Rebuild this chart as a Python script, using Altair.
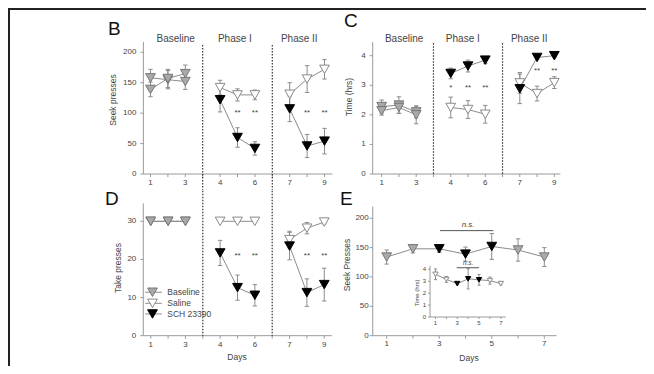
import altair as alt
import pandas as pd

# ------------------------------------------------------------------ data
days9 = [1, 2, 3, 4, 5, 6, 7, 8, 9]
B_saline = [158, 155, 152, 142, 130, 130, 131, 156, 172]
B_saline_err = [14, 15, 13, 12, 10, 8, 19, 22, 16]
B_sch = [139, 157, 165, 122, 60, 42, 107, 46, 54]
B_sch_err = [12, 15, 14, 20, 16, 11, 21, 19, 21]

C_saline = [2.28, 2.33, 2.10, 2.25, 2.18, 2.02, 3.08, 2.72, 3.09]
C_saline_err = [0.22, 0.28, 0.20, 0.35, 0.30, 0.30, 0.35, 0.25, 0.20]
C_sch = [2.14, 2.25, 2.00, 3.40, 3.65, 3.85, 2.88, 3.94, 4.00]
C_sch_err = [0.15, 0.20, 0.30, 0.18, 0.20, 0.12, 0.50, 0.05, 0.05]

D_saline = [30, 30, 30, 30, 30, 30, 25.2, 28.2, 29.8]
D_saline_err = [0, 0, 0, 0, 0, 0, 2.2, 1.5, 0.5]
D_sch = [30, 30, 30, 21.7, 12.6, 10.6, 23.5, 11.3, 13.4]
D_sch_err = [0, 0, 0, 3.3, 3.3, 2.8, 3.6, 3.6, 4.3]

E_days = [1, 2, 3, 4, 5, 6, 7]
E_seek = [134, 148, 148, 139, 152, 146, 134]
E_seek_err = [12, 7, 6, 12, 22, 19, 16]
E_treated = [False, False, True, True, True, False, False]
E_inset_time = [3.58, 3.15, 2.80, 3.20, 3.12, 3.05, 2.80]
E_inset_err = [0.45, 0.25, 0.10, 0.85, 0.45, 0.30, 0.10]

B_star_days = [5, 6, 8, 9]
B_star_text = ["**", "**", "**", "**"]
C_star_days = [4, 5, 6, 8, 9]
C_star_text = ["*", "**", "**", "**", "**"]
D_star_days = [5, 6, 8, 9]
D_star_text = ["**", "**", "**", "**"]

phase_names = ["Baseline", "Phase I", "Phase II"]
legend_names = ["Baseline", "Saline", "SCH 23390"]

# ------------------------------------------------------------------ layout
W, H = 638, 358
FONT = "Liberation Sans"
GREY = "#8c8c8c"
AXC = "#9a9a9a"
TXT = "#444444"

GEOM = {
    "B": dict(xd=[0, 12], xr=[125.1, 333.9], yd=[0, 200], yr=[166, 44.3]),
    "C": dict(xd=[0, 12], xr=[356.4, 563.6], yd=[0, 4], yr=[166, 47.7]),
    "D": dict(xd=[0, 12], xr=[125.4, 333.6], yd=[0, 30], yr=[327.7, 213.3]),
    "E": dict(xd=[0, 8], xr=[352.4, 562.6], yd=[0, 200], yr=[327.7, 210.3]),
    "I": dict(xd=[0, 8], xr=[416.6, 503.7], yd=[0, 4], yr=[309, 261.3]),
}


def sx(p):
    g = GEOM[p]
    return alt.Scale(domain=g["xd"], range=g["xr"], nice=False, zero=False)


def sy(p):
    g = GEOM[p]
    return alt.Scale(domain=g["yd"], range=g["yr"], nice=False, zero=False)


def X(p, f):
    return alt.X(f"{f}:Q", scale=sx(p), axis=None)


def Y(p, f):
    return alt.Y(f"{f}:Q", scale=sy(p), axis=None)


def Xd(p, v):
    return alt.X(datum=v, scale=sx(p), axis=None)


def Yd(p, v):
    return alt.Y(datum=v, scale=sy(p), axis=None)


def pos9(d):
    # days 1-3, 4-6, 7-9 with a one-slot gap between phases
    return d + (d - 1) // 3


def frame9(sal, sal_e, sch, sch_e):
    rows = []
    for grp, m, e in (("saline", sal, sal_e), ("sch", sch, sch_e)):
        for d, mv, ev in zip(days9, m, e):
            ph = (d - 1) // 3
            rows.append(dict(pos=pos9(d), mean=mv, lo=mv - ev, hi=mv + ev,
                             seg=f"{grp}{ph}", style="base" if ph == 0 else grp))
    return pd.DataFrame(rows)


STY = {"base": ("#a9a9a9", "#777777"), "saline": ("#ffffff", "#8a8a8a"),
       "sch": ("#000000", "#000000")}


def series(p, df, size=95, cap=2.2, sw=1):
    x = X(p, "pos")
    out = [
        alt.Chart(df).mark_line(color=GREY, strokeWidth=sw).encode(
            x=x, y=Y(p, "mean"), detail="seg:N"),
        alt.Chart(df).mark_rule(color=GREY, strokeWidth=sw).encode(
            x=x, y=Y(p, "lo"), y2=alt.Y2("hi:Q")),
        alt.Chart(df).mark_rule(color=GREY, strokeWidth=sw, xOffset=-cap, x2Offset=cap).encode(
            x=x, x2=alt.X2("pos:Q"), y=Y(p, "hi"), y2=alt.Y2("hi:Q")),
        alt.Chart(df).mark_rule(color=GREY, strokeWidth=sw, xOffset=-cap, x2Offset=cap).encode(
            x=x, x2=alt.X2("pos:Q"), y=Y(p, "lo"), y2=alt.Y2("lo:Q")),
    ]
    for st in ("base", "saline", "sch"):
        fill, stroke = STY[st]
        out.append(
            alt.Chart(df).transform_filter(alt.datum.style == st).mark_point(
                shape="triangle-down", filled=True, fill=fill, stroke=stroke,
                strokeWidth=1, size=size, opacity=1).encode(x=x, y=Y(p, "mean")))
    return out


def axes(p, ax_x, x_end, y_top, yticks, xticks, xlabels, ylab_dx=-7, xlab_dy=9,
         fs=8, tl=3):
    ydf = pd.DataFrame({"v": yticks, "lab": [str(v) for v in yticks]})
    xdf = pd.DataFrame({"v": xticks})
    ldf = pd.DataFrame({"v": [v for v, _ in xlabels], "lab": [t for _, t in xlabels]})
    base = alt.Chart(pd.DataFrame({"a": [0]}))
    return [
        base.mark_rule(color=AXC, strokeWidth=1).encode(
            x=Xd(p, ax_x), y=Yd(p, 0), y2=alt.Y2(datum=y_top)),
        base.mark_rule(color=AXC, strokeWidth=1).encode(
            x=Xd(p, ax_x), x2=alt.X2(datum=x_end), y=Yd(p, 0)),
        alt.Chart(ydf).mark_rule(color=AXC, x2Offset=-tl).encode(
            x=Xd(p, ax_x), x2=alt.X2(datum=ax_x), y=Y(p, "v"), y2=alt.Y2("v:Q")),
        alt.Chart(xdf).mark_rule(color=AXC, y2Offset=tl).encode(
            x=X(p, "v"), x2=alt.X2("v:Q"), y=Yd(p, 0), y2=alt.Y2(datum=0)),
        alt.Chart(ydf).mark_text(align="right", baseline="middle", dx=ylab_dx,
                                 font=FONT, fontSize=fs, color=TXT).encode(
            x=Xd(p, ax_x), y=Y(p, "v"), text="lab:N"),
        alt.Chart(ldf).mark_text(align="center", baseline="middle", dy=xlab_dy,
                                 font=FONT, fontSize=fs, color=TXT).encode(
            x=X(p, "v"), y=Yd(p, 0), text="lab:N"),
    ]


def ptext(text, x, y, size, angle=0, weight="normal", color=TXT, align="center",
          baseline="middle", style="normal"):
    return alt.Chart(pd.DataFrame({"t": [text]})).mark_text(
        font=FONT, fontSize=size, angle=angle, fontWeight=weight, color=color,
        align=align, baseline=baseline, fontStyle=style).encode(
        x=alt.value(x), y=alt.value(y), text="t:N")


def dtext(p, texts, xs, ys, size, color=TXT, style="normal"):
    df = pd.DataFrame({"t": texts, "x": xs, "y": ys})
    return alt.Chart(df).mark_text(font=FONT, fontSize=size, color=color,
                                   baseline="middle", fontStyle=style).encode(
        x=X(p, "x"), y=Y(p, "y"), text="t:N")


def dotted(p, xs, ytop, ybot):
    df = pd.DataFrame({"x": xs})
    return alt.Chart(df).mark_rule(color="#333333", strokeWidth=1.2,
                                   strokeDash=[1.5, 1.5]).encode(
        x=X(p, "x"), y=Yd(p, ytop), y2=alt.Y2(datum=ybot))


layers = []

# frame
layers.append(alt.Chart(pd.DataFrame({"a": [0]})).mark_rule(color="#222", strokeWidth=2).encode(
    x=alt.value(0), x2=alt.value(W), y=alt.value(1)))
layers.append(alt.Chart(pd.DataFrame({"a": [0]})).mark_rule(color="#222", strokeWidth=2).encode(
    x=alt.value(1), y=alt.value(0), y2=alt.value(H)))

x9_ticks = list(range(1, 12))
x9_labels = [(1, "1"), (3, "3"), (5, "4"), (7, "6"), (9, "7"), (11, "9")]

# ---- panel B
layers += axes("B", 0.59, 11.45, 217, [0, 50, 100, 150, 200], x9_ticks, x9_labels)
layers.append(dotted("B", [4, 8], 212, -26))
layers += series("B", frame9(B_saline, B_saline_err, B_sch, B_sch_err))
layers.append(dtext("B", B_star_text, [pos9(d) for d in B_star_days], [100] * 4, 8))
layers.append(dtext("B", phase_names, [2.45, 5.85, 9.55], [222] * 3, 10))

# ---- panel C
layers += axes("C", 0.48, 11.35, 4.46, [0, 1, 2, 3, 4], x9_ticks, x9_labels)
layers.append(dotted("C", [4, 8], 4.42, 0))
layers += series("C", frame9(C_saline, C_saline_err, C_sch, C_sch_err))
layers.append(dtext("C", C_star_text, [pos9(d) for d in C_star_days],
                    [2.9, 2.9, 2.9, 3.48, 3.48], 8))
layers.append(dtext("C", phase_names, [2.3, 5.7, 9.55], [4.56] * 3, 10))

# ---- panel D
layers += axes("D", 0.57, 11.45, 34.7, [0, 10, 20, 30], x9_ticks, x9_labels)
layers.append(dotted("D", [4, 8], 38, 0))
layers += series("D", frame9(D_saline, D_saline_err, D_sch, D_sch_err))
layers.append(dtext("D", D_star_text, [pos9(d) for d in D_star_days], [21] * 4, 8))

# legend (panel D coordinates)
leg_y = [11.4, 8.5, 5.7]
leg = pd.DataFrame({"name": legend_names, "y": leg_y, "x0": [0.68] * 3, "x1": [1.64] * 3,
                    "xm": [1.1] * 3, "xt": [1.95] * 3,
                    "style": ["base", "saline", "sch"]})
layers.append(alt.Chart(leg).mark_rule(color=GREY).encode(
    x=X("D", "x0"), x2=alt.X2("x1:Q"), y=Y("D", "y")))
for st in ("base", "saline", "sch"):
    fill, stroke = STY[st]
    layers.append(alt.Chart(leg).transform_filter(alt.datum.style == st).mark_point(
        shape="triangle-down", filled=True, fill=fill, stroke=stroke, strokeWidth=1,
        size=95, opacity=1).encode(x=X("D", "xm"), y=Y("D", "y")))
layers.append(alt.Chart(leg).mark_text(align="left", baseline="middle", font=FONT,
                                       fontSize=8.5, color=TXT).encode(
    x=X("D", "xt"), y=Y("D", "y"), text="name:N"))

# ---- panel E
layers += axes("E", 0.47, 7.47, 219.8, [0, 50, 100, 150, 200], list(range(1, 8)),
               [(1, "1"), (3, "3"), (5, "5"), (7, "7")], ylab_dx=-4, xlab_dy=8)
edf = pd.DataFrame({"pos": E_days, "mean": E_seek,
                    "lo": [m - e for m, e in zip(E_seek, E_seek_err)],
                    "hi": [m + e for m, e in zip(E_seek, E_seek_err)],
                    "seg": "e", "style": ["sch" if t else "base" for t in E_treated]})
layers += series("E", edf)
layers.append(alt.Chart(pd.DataFrame({"a": [0]})).mark_rule(color="#555", strokeWidth=1).encode(
    x=Xd("E", 3.03), x2=alt.X2(datum=5.06), y=Yd("E", 179)))
layers.append(dtext("E", ["n.s."], [4.1], [188.5], 8, style="italic"))

# inset
layers += axes("I", 0.5, 7.45, 4.3, [0, 1, 2, 3, 4], list(range(1, 8)),
               [(1, "1"), (3, "3"), (5, "5"), (7, "7")], ylab_dx=-4, xlab_dy=6, fs=6, tl=2)
idf = pd.DataFrame({"pos": E_days, "mean": E_inset_time,
                    "lo": [m - e for m, e in zip(E_inset_time, E_inset_err)],
                    "hi": [m + e for m, e in zip(E_inset_time, E_inset_err)],
                    "seg": "i", "style": ["sch" if t else "saline" for t in E_treated]})
layers += series("I", idf, size=28, cap=1.5)
layers.append(alt.Chart(pd.DataFrame({"a": [0]})).mark_rule(color="#555", strokeWidth=1).encode(
    x=Xd("I", 2.95), x2=alt.X2(datum=5.0), y=Yd("I", 4.13)))
layers.append(dtext("I", ["n.s."], [4.0], [4.5], 6.5, style="italic"))

# ---- panel letters and axis titles (pixel layout)
layers.append(ptext("B", 100, 27, 19, color="#111", align="left", baseline="alphabetic"))
layers.append(ptext("C", 336, 19, 19, color="#111", align="left", baseline="alphabetic"))
layers.append(ptext("D", 97, 197, 19, color="#111", align="left", baseline="alphabetic"))
layers.append(ptext("E", 332, 197, 19, color="#111", align="left", baseline="alphabetic"))
layers.append(ptext("Seek presses", 105, 92, 8.5, angle=270))
layers.append(ptext("Time (hrs)", 341, 89, 8.5, angle=270))
layers.append(ptext("Take presses", 110, 260, 8.5, angle=270))
layers.append(ptext("Seek Presses", 339, 257, 8.5, angle=270))
layers.append(ptext("Time (hrs)", 409, 285, 6, angle=270))
layers.append(ptext("Days", 229, 349, 8.5))
layers.append(ptext("Days", 461, 350, 8.5))

chart = alt.layer(*layers).resolve_scale(x="independent", y="independent").properties(
    width=W, height=H, autosize=alt.AutoSizeParams(type="none"), padding=0,
    background="white").configure_view(stroke=None)

chart.save("out.html", embed_options={"renderer": "svg", "actions": False})
